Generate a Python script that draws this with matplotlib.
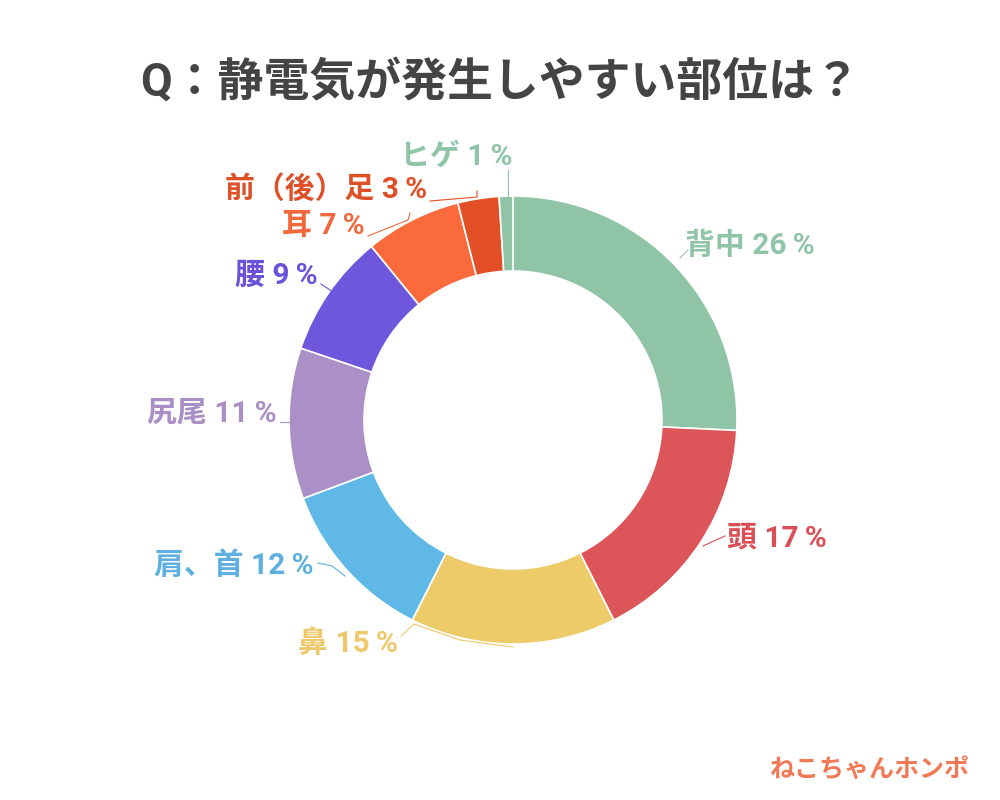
import matplotlib
matplotlib.use("Agg")
import matplotlib.pyplot as plt

plt.rcParams['font.family'] = ['Roboto', 'Noto Sans CJK JP', 'DejaVu Sans']

# data (clockwise from top)
parts = ['背中', '頭', '鼻', '肩、首', '尻尾', '腰', '耳', '前（後）足', 'ヒゲ']
values = [26, 17, 15, 12, 11, 9, 7, 3, 1]
colors = ['#8fc4a6', '#dc5558', '#eecb69', '#5fb8e6', '#ab90c8',
          '#6e56dd', '#fb6a3b', '#e34f27', '#8fc4a6']
text_colors = ['#8fc4a6', '#d94f55', '#eec86a', '#5fb0e0', '#a98fc6',
               '#6a52d8', '#f0683c', '#dd5028', '#8fc4a6']

# label placement in pixel coords (x, y from top, alignment)
lab_pos = [(685, 246, 'left'), (727, 538, 'left'), (398, 644, 'right'),
           (314, 566, 'right'), (277, 414, 'right'), (318, 276, 'right'),
           (365, 226, 'right'), (427, 190, 'right'), (512, 157, 'right')]
# connector: from label end to wedge edge
conn = [[(680, 258), (688, 250)],
        [(703, 546), (725, 536)],
        [(401, 636), (414, 624), (460, 640), (513, 647)],
        [(318, 563), (332, 566), (345, 576)],
        [(280, 422), (291, 422)],
        [(321, 284), (333, 292)],
        [(368, 236), (408, 220), (410, 213)],
        [(430, 201), (477, 197), (477, 191)],
        [(508, 170), (508, 196)]]

W, H = 1000, 800
fig = plt.figure(figsize=(10, 8), dpi=100)
ax = fig.add_axes([0, 0, 1, 1])

cx, cy, R = 513, 420, 224
ax.pie(values, colors=colors, startangle=90, counterclock=False,
       center=(cx, H - cy), radius=R, frame=True,
       wedgeprops=dict(width=R * 0.335, edgecolor='white', linewidth=1.2))
ax.set_xlim(0, W)
ax.set_ylim(0, H)
ax.set_aspect('equal')
ax.axis('off')

for name, v, (x, y, ha), c, pts in zip(parts, values, lab_pos, text_colors, conn):
    ax.text(x, H - y, f'{name} {v}\u2009%', ha=ha, va='center', color=c,
            fontsize=21.5, fontweight='bold')
    ax.plot([p[0] for p in pts], [H - p[1] for p in pts], color=c, lw=0.8)

ax.text(500, H - 82, 'Q：静電気が発生しやすい部位は？', ha='center', va='center',
        color='#444444', fontsize=33, fontweight='bold')

ax.text(970, H - 770, 'ねこちゃんホンポ', ha='right', va='center',
        color='#f07a55', fontsize=18, fontweight='bold')

fig.savefig('out.png', dpi=100, facecolor='white')
